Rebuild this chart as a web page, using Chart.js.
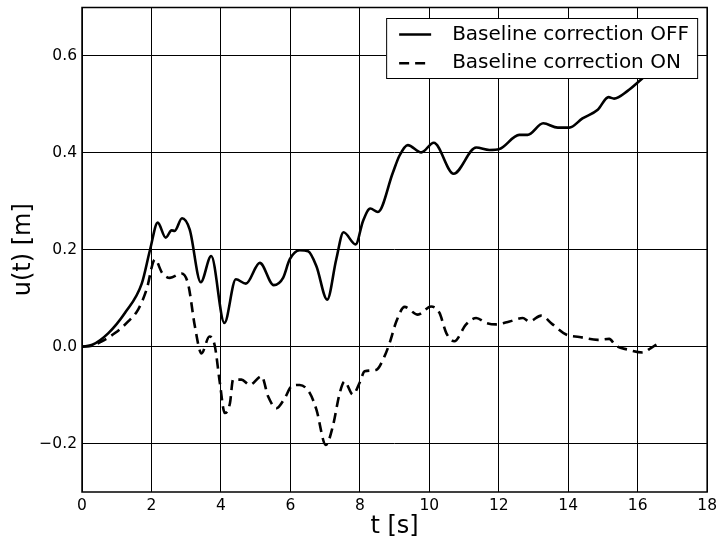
<!DOCTYPE html>
<html>
<head>
<meta charset="utf-8">
<script src="https://cdn.jsdelivr.net/npm/chart.js@4.4.1/dist/chart.umd.min.js"></script>
<style>
  html, body { margin: 0; padding: 0; background: #fff; }
</style>
</head>
<body>
<canvas id="myChart" width="722" height="542"></canvas>
<script>
// displacement without baseline correction
const tOff = [0, 0.3, 0.76, 1.24, 1.72, 1.96, 2.18, 2.41, 2.58, 2.67, 2.88, 3.1, 3.42, 3.72, 4.1, 4.43, 4.72, 5.12, 5.52, 5.79, 5.98, 6.27, 6.51, 6.75, 7.06, 7.32, 7.53, 7.88, 8.09, 8.3, 8.52, 8.95, 9.14, 9.38, 9.77, 10.13, 10.7, 11.35, 11.73, 12.02, 12.59, 12.83, 13.28, 13.7, 14.03, 14.41, 14.85, 15.16, 15.32, 15.71, 16.14, 16.67]
const uOff = [0, 0.004, 0.028, 0.07, 0.13, 0.2, 0.256, 0.225, 0.24, 0.239, 0.265, 0.242, 0.133, 0.187, 0.049, 0.139, 0.13, 0.173, 0.127, 0.142, 0.18, 0.199, 0.197, 0.166, 0.097, 0.18, 0.236, 0.211, 0.259, 0.285, 0.278, 0.359, 0.394, 0.416, 0.401, 0.421, 0.357, 0.411, 0.406, 0.408, 0.437, 0.437, 0.461, 0.452, 0.452, 0.471, 0.489, 0.515, 0.512, 0.528, 0.554, 0.585]

// displacement with baseline correction
const tOn = [0, 0.3, 0.57, 0.95, 1.33, 1.62, 1.86, 2.1, 2.31, 2.53, 2.87, 3.06, 3.25, 3.44, 3.67, 3.82, 3.97, 4.11, 4.26, 4.35, 4.59, 4.83, 5.17, 5.36, 5.6, 5.84, 6.03, 6.27, 6.56, 6.75, 7.02, 7.22, 7.42, 7.56, 7.8, 7.99, 8.14, 8.47, 8.71, 8.86, 9.05, 9.29, 9.67, 10.05, 10.29, 10.49, 10.72, 11.06, 11.35, 11.64, 11.92, 12.31, 12.69, 12.88, 13.22, 13.55, 13.94, 14.32, 14.85, 15.18, 15.37, 15.71, 16.14, 16.38, 16.67]
const uOn = [0, 0.002, 0.011, 0.028, 0.052, 0.077, 0.118, 0.18, 0.152, 0.142, 0.151, 0.128, 0.042, -0.014, 0.021, 0.003, -0.075, -0.137, -0.117, -0.068, -0.068, -0.079, -0.061, -0.103, -0.127, -0.106, -0.082, -0.079, -0.096, -0.13, -0.203, -0.165, -0.096, -0.072, -0.099, -0.075, -0.051, -0.048, -0.02, 0.008, 0.052, 0.082, 0.066, 0.083, 0.07, 0.028, 0.011, 0.046, 0.059, 0.049, 0.046, 0.052, 0.059, 0.052, 0.064, 0.046, 0.025, 0.02, 0.014, 0.016, 0.002, -0.006, -0.012, -0.003, 0.011]

const seriesNames = ['Baseline correction OFF', 'Baseline correction ON']
const xTicks = [0, 2, 4, 6, 8, 10, 12, 14, 16, 18]
const yTicks = [-0.2, 0, 0.2, 0.4, 0.6]

const toPoints = (xs, ys) => xs.map((x, i) => ({x: x, y: ys[i]}))
const FONT = 'DejaVu Sans'

// box around the plot + legend drawn inside the axes
const frameAndLegend = {
  id: 'frameAndLegend',
  afterDatasetsDraw(chart) {
    const {ctx, chartArea: a} = chart
    ctx.save()
    ctx.strokeStyle = '#000'
    ctx.lineWidth = 1.5
    ctx.strokeRect(a.left, a.top, a.right - a.left, a.bottom - a.top)

    const bw = 311, bh = 60
    const bx = a.right - 10 - bw, by = a.top + 10.5
    ctx.fillStyle = '#fff'
    ctx.fillRect(bx, by, bw, bh)
    ctx.lineWidth = 1
    ctx.strokeRect(bx + 0.5, by + 0.5, bw, bh)

    ctx.font = '20px "' + FONT + '"'
    ctx.textBaseline = 'middle'
    ctx.fillStyle = '#000'
    chart.data.datasets.forEach((ds, i) => {
      const y = by + 16.5 + i * 28.7
      ctx.beginPath()
      ctx.setLineDash(ds.borderDash || [])
      ctx.lineWidth = ds.borderWidth
      ctx.moveTo(bx + 13, y)
      ctx.lineTo(bx + 45, y)
      ctx.stroke()
      ctx.setLineDash([])
      ctx.fillText(ds.label, bx + 66, y)
    })
    ctx.restore()
  }
}

new Chart(document.getElementById('myChart'), {
  type: 'line',
  data: {
    datasets: [{
      label: seriesNames[0],
      data: toPoints(tOff, uOff),
      borderColor: '#000',
      borderWidth: 2.6,
      pointRadius: 0,
      cubicInterpolationMode: 'monotone'
    }, {
      label: seriesNames[1],
      data: toPoints(tOn, uOn),
      borderColor: '#000',
      borderWidth: 2.6,
      borderDash: [10, 6],
      pointRadius: 0,
      cubicInterpolationMode: 'monotone'
    }]
  },
  options: {
    responsive: false,
    animation: false,
    layout: { padding: { left: 0, right: 14, top: 7.5, bottom: 0 } },
    plugins: { legend: { display: false }, tooltip: { enabled: false } },
    scales: {
      x: {
        type: 'linear',
        min: 0,
        max: 18,
        afterBuildTicks: s => { s.ticks = xTicks.map(v => ({value: v})) },
        afterFit: s => { s.height = 50 },
        grid: { color: '#000', lineWidth: 1, drawTicks: false },
        border: { display: false },
        ticks: { color: '#000', padding: 5, font: { family: FONT, size: 15.5 }, maxRotation: 0 },
        title: { display: true, text: 't [s]', color: '#000', font: { family: FONT, size: 24 }, padding: { top: 0, bottom: 1 } }
      },
      y: {
        type: 'linear',
        min: -0.3,
        max: 0.7,
        afterBuildTicks: s => { s.ticks = yTicks.map(v => ({value: v})) },
        afterFit: s => { s.width = 82; s.paddingTop = 0; s.paddingBottom = 0 },
        grid: { color: '#000', lineWidth: 1, drawTicks: false },
        border: { display: false },
        ticks: {
          color: '#000',
          padding: 5,
          font: { family: FONT, size: 15.5 },
          callback: v => (v < 0 ? '\u2212' : '') + Math.abs(v).toFixed(1)
        },
        title: { display: true, text: 'u(t) [m]', color: '#000', font: { family: FONT, size: 24 }, padding: { top: 9, bottom: 0 } }
      }
    }
  },
  plugins: [frameAndLegend]
})
</script>
</body>
</html>
